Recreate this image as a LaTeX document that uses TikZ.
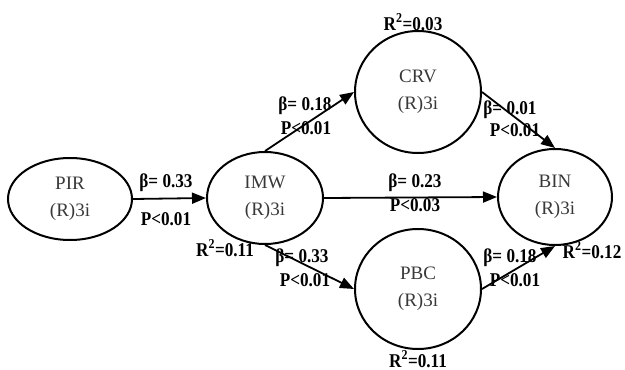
\documentclass[tikz,border=0pt]{standalone}
\usepackage{fontspec}
\setmainfont{Liberation Serif}
\newfontfamily\lblfont{Liberation Serif}[FakeStretch=0.88]
\usetikzlibrary{arrows.meta,shapes.geometric}
\definecolor{nodetext}{HTML}{383838}
\begin{document}
\begin{tikzpicture}[x=1pt,y=-1pt,
  latent/.style={draw=black,line width=2pt,ellipse,inner sep=0pt,align=center,
    text=nodetext,font=\fontsize{19}{27}\selectfont},
  lbl/.style={inner sep=0pt,font=\lblfont\fontsize{19.5}{20}\selectfont\bfseries},
  arr/.style={line width=1.8pt,-{Triangle[length=14pt,width=11pt]}}]
\useasboundingbox (0,0) rectangle (625,370);
\node[latent,minimum width=124pt,minimum height=82pt] (PIR) at (70,199) {PIR\\(R)3i};
\node[latent,minimum width=116pt,minimum height=92pt] (IMW) at (265,198) {IMW\\(R)3i};
\node[latent,minimum width=126pt,minimum height=122pt] (CRV) at (418,92) {CRV\\(R)3i};
\node[latent,minimum width=114pt,minimum height=96pt] (BIN) at (555,197) {BIN\\(R)3i};
\node[latent,minimum width=126pt,minimum height=120pt] (PBC) at (418,289) {PBC\\(R)3i};

\draw[arr] (PIR.east) -- (IMW.west);
\draw[arr] (IMW.north) -- (CRV.west);
\draw[arr] (CRV.east) -- (BIN.north);
\draw[arr] (IMW.east) -- (BIN.west);
\draw[arr] (IMW.south) -- (PBC.west);
\draw[arr] (PBC.east) -- (BIN.south);

\node[lbl] (b1) at (166,183) {β= 0.33};
\node[lbl] (p1) at (166,219) {P<0.01};
\node[lbl] (r1) at (225,248) {R\textsuperscript{2}=0.11};
\node[lbl] (b2) at (305,106) {β= 0.18};
\node[lbl] (p2) at (306,128) {P<0.01};
\node[lbl] (r2) at (413,22) {R\textsuperscript{2}=0.03};
\node[lbl] (b3) at (510,110) {β= 0.01};
\node[lbl] (p3) at (515,130) {P<0.01};
\node[lbl] (b4) at (415,183) {β= 0.23};
\node[lbl] (p4) at (415,205) {P<0.03};
\node[lbl] (b5) at (302,258) {β= 0.33};
\node[lbl] (p5) at (305,280) {P<0.01};
\node[lbl] (b6) at (510,258) {β= 0.18};
\node[lbl] (p6) at (515,280) {P<0.01};
\node[lbl] (r3) at (592,250) {R\textsuperscript{2}=0.12};
\node[lbl] (r4) at (418,359) {R\textsuperscript{2}=0.11};
\end{tikzpicture}
\end{document}
